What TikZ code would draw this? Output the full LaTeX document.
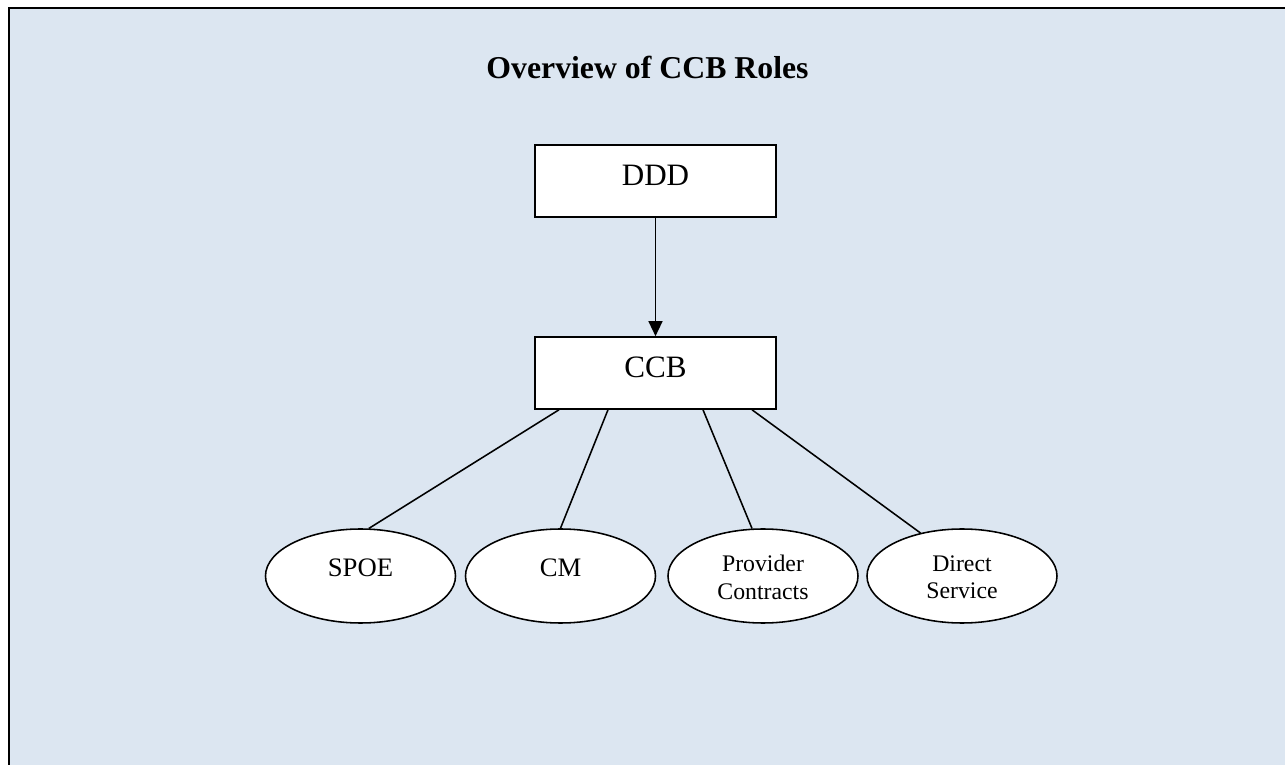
\documentclass[tikz,border=0pt]{standalone}
\usepackage{fontspec}
\setmainfont{Liberation Serif}
\usetikzlibrary{arrows.meta,calc,shapes.geometric}
\definecolor{bgblue}{HTML}{DCE6F1}
\begin{document}
\begin{tikzpicture}[x=0.45pt,y=-0.45pt,
  conn/.style={line width=0.7pt},
  boxnode/.style={draw, line width=0.7pt, fill=white, minimum width=108.45pt, minimum height=32.4pt, inner sep=0pt},
  boxtxt/.style={font=\fontsize{14}{17}\selectfont, yshift=2.5pt, inner sep=0pt},
  oval/.style={draw, ellipse, line width=0.7pt, fill=white, minimum width=85.5pt, minimum height=42.3pt, inner sep=0pt},
  ovaltxt/.style={font=\fontsize{12}{14}\selectfont, yshift=3.9pt, inner sep=0pt},
  ovaltwo/.style={font=\fontsize{10.7}{12.3}\selectfont, align=center, yshift=-0.6pt, inner sep=0pt}
]
\useasboundingbox (0,0) rectangle (1285,765);
\fill[bgblue] (9,8) rectangle (1285,765);
\draw[line width=1.05pt] (9,765) -- (9,8) -- (1285,8);

\node[inner sep=0pt, font=\fontsize{14.3}{17}\selectfont\bfseries] (title) at (647.5,67) {Overview of CCB Roles};

\node[boxnode, label={[boxtxt]center:DDD}] (ddd) at (655.5,181) {};
\node[boxnode, label={[boxtxt]center:CCB}] (ccb) at (655.5,373) {};

\node[oval, label={[ovaltxt]center:SPOE}] (spoe) at (360.5,576) {};
\node[oval, label={[ovaltxt]center:CM}] (cm) at (560.5,576) {};
\node[oval, label={[ovaltwo]center:Provider\\Contracts}] (prov) at (763,576) {};
\node[oval, label={[ovaltwo]center:Direct\\Service}] (dir) at (962,576) {};

\draw[conn, -{Triangle[length=6.8pt,width=6.3pt]}] (ddd.south) -- (ccb.north);

\draw[conn] ($(ccb.south)+(-96.5,0)$) -- (spoe.80);
\draw[conn] ($(ccb.south)+(-47.5,0)$) -- (cm.north);
\draw[conn] ($(ccb.south)+(47.5,0)$) -- (prov.103);
\draw[conn] ($(ccb.south)+(96.5,0)$) -- (dir.134.5);
\end{tikzpicture}
\end{document}
